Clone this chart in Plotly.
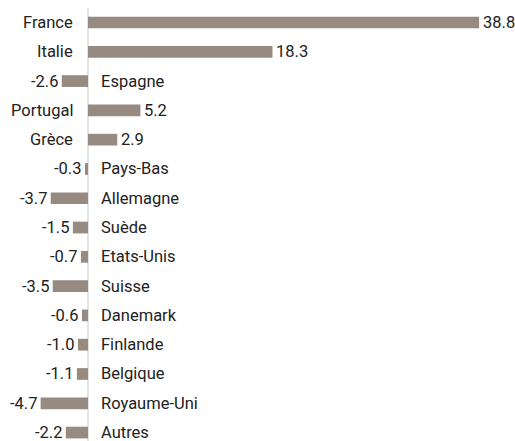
import plotly.graph_objects as go

countries = ["France", "Italie", "Espagne", "Portugal", "Grèce", "Pays-Bas", "Allemagne",
             "Suède", "Etats-Unis", "Suisse", "Danemark", "Finlande", "Belgique",
             "Royaume-Uni", "Autres"]
values = [38.8, 18.3, -2.6, 5.2, 2.9, -0.3, -3.7, -1.5, -0.7, -3.5, -0.6, -1.0, -1.1, -4.7, -2.2]

FONT = "Roboto, Liberation Sans Narrow, sans-serif"
BAR_COLOR = "#978a81"
TEXT_COLOR = "#222222"

idx = list(range(len(countries)))

fig = go.Figure()
fig.add_trace(go.Bar(
    x=values, y=idx, orientation="h",
    marker=dict(color=BAR_COLOR, line=dict(width=0)),
    width=0.4, hoverinfo="skip",
))

annotations = []
for i, (c, v) in enumerate(zip(countries, values)):
    if v >= 0:
        annotations.append(dict(x=0, y=i, text=c, xanchor="right", xshift=-13, showarrow=False))
        annotations.append(dict(x=v, y=i, text=f"{v:.1f}", xanchor="left", xshift=2, showarrow=False))
    else:
        annotations.append(dict(x=0, y=i, text=c, xanchor="left", xshift=11, showarrow=False))
        annotations.append(dict(x=v, y=i, text=f"{v:.1f}", xanchor="right", xshift=-2, showarrow=False))
for a in annotations:
    a.update(xref="x", yref="y", yanchor="middle",
             font=dict(family=FONT, size=16.5, color=TEXT_COLOR))

fig.update_layout(
    width=515, height=441,
    margin=dict(l=0, r=0, t=0, b=0),
    paper_bgcolor="white", plot_bgcolor="white",
    showlegend=False,
    annotations=annotations,
    xaxis=dict(range=[-8.73, 42.36], visible=False, showgrid=False, zeroline=False, fixedrange=True),
    yaxis=dict(range=[14.288, -0.768], visible=False, showgrid=False, zeroline=False, fixedrange=True),
    shapes=[dict(type="line", xref="x", yref="y", x0=0, x1=0, y0=-0.5, y1=14.5,
                 line=dict(color="#c8c8c8", width=1), layer="below")],
)

fig.write_html("out.html", config={"displayModeBar": False},
               post_script="document.body.style.margin='0';document.body.style.padding='0';")
